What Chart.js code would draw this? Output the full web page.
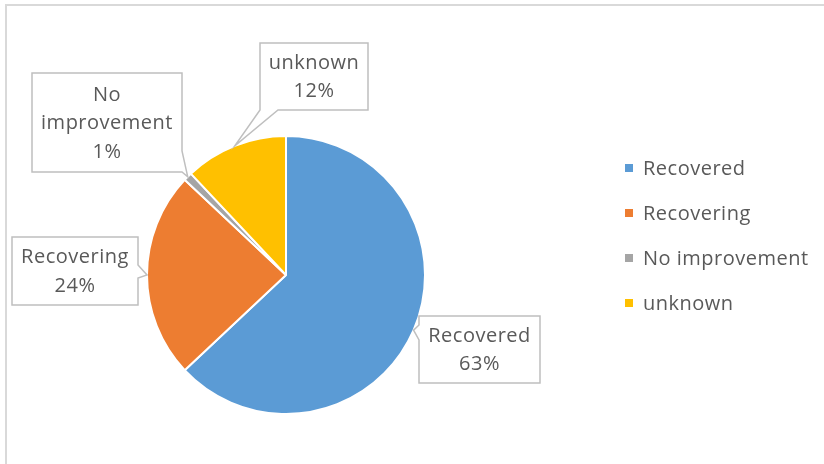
<!DOCTYPE html>
<html>
<head>
<meta charset="utf-8">
<script src="https://cdn.jsdelivr.net/npm/chart.js@4.4.1/dist/chart.umd.min.js"></script>
<style>
  html, body { margin: 0; padding: 0; background: #fff; }
  #wrap { position: relative; width: 824px; height: 464px; overflow: hidden; }
  #frame {
    position: absolute; left: 5px; top: 4px; width: 900px; height: 600px;
    border-top: 2px solid #d9d9d9; border-left: 2px solid #d9d9d9;
  }
  #outcomeChart { position: absolute; left: 0; top: 0; }
</style>
</head>
<body>
<div id="wrap">
  <div id="frame"></div>
  <canvas id="outcomeChart" width="824" height="464"></canvas>
</div>
<script>
  // outcome categories and their shares (%)
  const categories = ["Recovered", "Recovering", "No improvement", "unknown"];
  const shares = [63, 24, 1, 12];
  const sliceColors = ["#5b9bd5", "#ed7d31", "#a5a5a5", "#ffc000"];

  const FONT = '20px "Open Sans", "Noto Sans", sans-serif';
  const TEXT_COLOR = "#595959";

  // callout boxes: [left, top, width, height], which edge carries the pointer,
  // where along that edge the pointer base starts / ends
  const callouts = [
    { box: [419, 316, 121, 67], side: "left",   from: 9,  to: 24 },
    { box: [12, 237, 126, 68],  side: "right",  from: 28, to: 41 },
    { box: [32, 73, 150, 99],   side: "right",  from: 78, to: 99 },
    { box: [260, 43, 108, 67],  side: "bottom", from: 0,  to: 18 },
  ];

  // legend column
  const legendX = 625, legendTop = 168, legendStep = 45;

  function labelLines(i) {
    const words = categories[i].split(" ");
    return words.concat([shares[i] + "%"]);
  }

  // draws the callout box with its pointer wedge, tip at (tx, ty)
  function drawCallout(ctx, c, tx, ty) {
    const [x, y, w, h] = c.box;
    ctx.beginPath();
    if (c.side === "left") {
      ctx.moveTo(x, y);
      ctx.lineTo(x + w, y);
      ctx.lineTo(x + w, y + h);
      ctx.lineTo(x, y + h);
      ctx.lineTo(x, y + c.to);
      ctx.lineTo(tx, ty);
      ctx.lineTo(x, y + c.from);
    } else if (c.side === "right") {
      ctx.moveTo(x, y);
      ctx.lineTo(x + w, y);
      ctx.lineTo(x + w, y + c.from);
      ctx.lineTo(tx, ty);
      ctx.lineTo(x + w, y + c.to);
      ctx.lineTo(x + w, y + h);
      ctx.lineTo(x, y + h);
    } else {
      ctx.moveTo(x, y);
      ctx.lineTo(x + w, y);
      ctx.lineTo(x + w, y + h);
      ctx.lineTo(x + c.to, y + h);
      ctx.lineTo(tx, ty);
      ctx.lineTo(x + c.from, y + h);
      ctx.lineTo(x, y + h);
    }
    ctx.closePath();
    ctx.fillStyle = "#ffffff";
    ctx.fill();
    ctx.strokeStyle = "#bfbfbf";
    ctx.lineWidth = 1.5;
    ctx.stroke();
  }

  const calloutPlugin = {
    id: "callouts",
    afterDatasetsDraw(chart) {
      const ctx = chart.ctx;
      const arcs = chart.getDatasetMeta(0).data;
      ctx.save();
      ctx.letterSpacing = "0.5px";
      arcs.forEach((arc, i) => {
        const p = arc.getProps(["x", "y", "startAngle", "endAngle", "outerRadius"], true);
        const mid = (p.startAngle + p.endAngle) / 2;
        const tx = p.x + Math.cos(mid) * p.outerRadius;
        const ty = p.y + Math.sin(mid) * p.outerRadius;
        const c = callouts[i];
        drawCallout(ctx, c, tx, ty);

        const lines = labelLines(i);
        const lineH = 28.5;
        const [x, y, w, h] = c.box;
        const cy = y + h / 2 + 1 - (lines.length - 1) * lineH / 2;
        ctx.font = FONT;
        ctx.fillStyle = TEXT_COLOR;
        ctx.textAlign = "center";
        ctx.textBaseline = "middle";
        lines.forEach((t, k) => ctx.fillText(t, x + w / 2, cy + k * lineH));
      });

      // legend
      ctx.textAlign = "left";
      ctx.textBaseline = "middle";
      categories.forEach((name, i) => {
        const yy = legendTop + i * legendStep;
        ctx.fillStyle = sliceColors[i];
        ctx.fillRect(legendX, yy - 4, 8, 8);
        ctx.fillStyle = TEXT_COLOR;
        ctx.fillText(name, legendX + 18, yy + 1);
      });
      ctx.restore();
    }
  };

  new Chart(document.getElementById("outcomeChart"), {
    type: "pie",
    data: {
      labels: categories,
      datasets: [{
        data: shares,
        backgroundColor: sliceColors,
        borderColor: "#ffffff",
        borderWidth: 2,
      }],
    },
    options: {
      responsive: false,
      animation: false,
      layout: { padding: { left: 146, right: 398, top: 135, bottom: 49 } },
      plugins: {
        legend: { display: false },
        tooltip: { enabled: false },
      },
    },
    plugins: [calloutPlugin],
  });
</script>
</body>
</html>
